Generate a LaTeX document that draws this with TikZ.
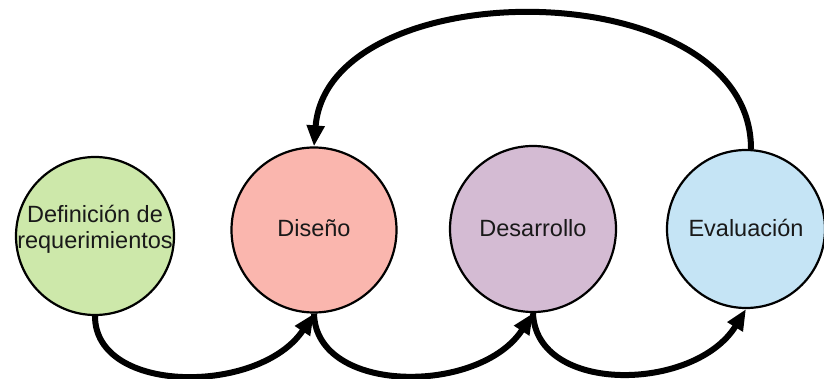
\documentclass[tikz,border=0pt]{standalone}
\usepackage{fontspec}
\setmainfont{Liberation Sans}
\usetikzlibrary{arrows.meta}
\definecolor{cgreen}{RGB}{205,232,170}
\definecolor{cpink}{RGB}{250,182,174}
\definecolor{cmauve}{RGB}{212,187,211}
\definecolor{cblue}{RGB}{197,228,245}
\begin{document}
\begin{tikzpicture}[x=1pt,y=-1pt,
  circ/.style={circle,draw=black,line width=2.2pt,inner sep=0pt},
  lbl/.style={font=\fontsize{23.5}{26}\selectfont,align=center,text=black!90},
  flow/.style={line width=6pt,-{Triangle[length=21pt,width=17pt]}}]
\useasboundingbox (0,0) rectangle (824,379);
\node[circ,fill=cgreen,minimum size=158pt] (def) at (95,236) {};
\node[circ,fill=cpink,minimum size=165pt] (dis) at (314,230) {};
\node[circ,fill=cmauve,minimum size=166pt] (des) at (533,229) {};
\node[circ,fill=cblue,minimum size=158pt] (eva) at (746,229) {};
\node[lbl] (tdef) at (95,229) {Definición de\\requerimientos};
\node[lbl] (tdis) at (314,228) {Diseño};
\node[lbl] (tdes) at (533,228) {Desarrollo};
\node[lbl] (teva) at (746,228) {Evaluación};
\draw[flow] (def.south) .. controls (95,395) and (260,395) .. (dis.south);
\draw[flow] (dis.south) .. controls (316,395) and (480,395) .. (des.south);
\draw[flow] (des.south) .. controls (536,395) and (695,392) .. (eva.south);
\draw[flow] ([xshift=5pt]eva.north) .. controls (751,-30) and (328,-30) .. (dis.north);
\end{tikzpicture}
\end{document}
